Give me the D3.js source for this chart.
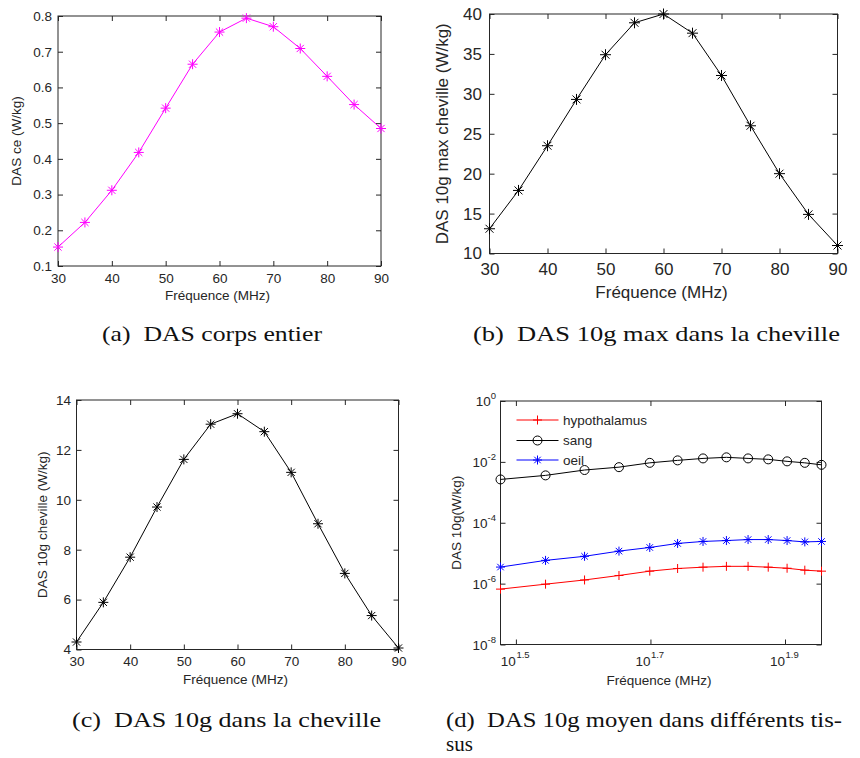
<!DOCTYPE html>
<html><head><meta charset="utf-8">
<script src="https://cdn.jsdelivr.net/npm/d3@7"></script>
<style>body{margin:0;background:#fff} svg{display:block}</style>
</head><body><svg id="c" width="860" height="758"></svg>
<script>
// ---------- data ----------
const freq = [30,35,40,45,50,55,60,65,70,75,80,85,90];
const dasCorpsEntier = [0.153,0.222,0.312,0.418,0.542,0.665,0.755,0.794,0.770,0.709,0.631,0.552,0.485];
const das10gMaxCheville = [13.1,17.9,23.5,29.3,34.9,38.9,40.0,37.6,32.3,26.0,20.0,14.9,11.0];
const das10gCheville = [4.30,5.89,7.70,9.71,11.62,13.03,13.45,12.73,11.10,9.04,7.05,5.36,4.06];
const hypothalamus = [6.6e-7,9.6e-7,1.32e-6,1.85e-6,2.57e-6,3.14e-6,3.47e-6,3.7e-6,3.7e-6,3.47e-6,3.2e-6,2.77e-6,2.57e-6];
const sang = [2.65e-3,3.6e-3,5.4e-3,6.7e-3,9.3e-3,1.12e-2,1.3e-2,1.41e-2,1.3e-2,1.21e-2,1.04e-2,9.3e-3,8.0e-3];
const oeil = [3.5e-6,5.8e-6,7.9e-6,1.17e-5,1.54e-5,2.09e-5,2.43e-5,2.6e-5,2.8e-5,2.8e-5,2.6e-5,2.35e-5,2.43e-5];

const xTicksLin = [30,40,50,60,70,80,90];
const yTicksA = [0.1,0.2,0.3,0.4,0.5,0.6,0.7,0.8];
const yTicksB = [10,15,20,25,30,35,40];
const yTicksC = [4,6,8,10,12,14];
const yExpD = [0,-2,-4,-6,-8];
const xExpD = ["1.5","1.7","1.9"];
const legendNames = ["hypothalamus","sang","oeil"];
const captions = ["(a)  DAS corps entier","(b)  DAS 10g max dans la cheville","(c)  DAS 10g dans la cheville","(d)  DAS 10g moyen dans différents tis-","sus"];

// ---------- drawing ----------
const svg = d3.select("#c");
const AX = "#262626";
const SANS = "'Liberation Sans', Arial, Helvetica, sans-serif";
const SERIF = "'Times New Roman', 'Liberation Serif', Tinos, 'Nimbus Roman', Times, serif";

function markerPath(type, cx, cy, s) {
  if (type === "plus") return `M${cx-s},${cy}H${cx+s}M${cx},${cy-s}V${cy+s}`;
  if (type === "star") {
    const d = s*0.72;
    return `M${cx-s},${cy}H${cx+s}M${cx},${cy-s}V${cy+s}M${cx-d},${cy-d}L${cx+d},${cy+d}M${cx-d},${cy+d}L${cx+d},${cy-d}`;
  }
  return "";
}

function drawSeries(g, x, y, xs, ys, color, marker, ms) {
  const line = d3.line().x((d,i)=>x(xs[i])).y(d=>y(d));
  g.append("path").attr("d", line(ys)).attr("fill","none").attr("stroke",color).attr("stroke-width",1);
  ys.forEach((v,i)=>{
    if (marker === "circle") {
      g.append("circle").attr("cx",x(xs[i])).attr("cy",y(v)).attr("r",ms)
        .attr("fill","none").attr("stroke",color).attr("stroke-width",1);
    } else {
      g.append("path").attr("d", markerPath(marker, x(xs[i]), y(v), ms))
        .attr("stroke",color).attr("stroke-width",1).attr("fill","none");
    }
  });
}

function styleAxis(sel, fs) {
  sel.select(".domain").remove();
  sel.selectAll("line").attr("stroke", AX);
  sel.selectAll("text").attr("fill", AX).style("font-family", SANS).style("font-size", fs+"px");
}

function linPanel(cfg) {
  const g = svg.append("g");
  const x = d3.scaleLinear().domain([30,90]).range([cfg.l, cfg.r]);
  const y = d3.scaleLinear().domain(cfg.yd).range([cfg.b, cfg.t]);
  g.append("rect").attr("x",cfg.l).attr("y",cfg.t).attr("width",cfg.r-cfg.l).attr("height",cfg.b-cfg.t)
    .attr("fill","none").attr("stroke",AX).attr("stroke-width",1);
  g.append("g").attr("transform",`translate(0,${cfg.b})`)
    .call(d3.axisBottom(x).tickValues(xTicksLin).tickSize(-5).tickPadding(cfg.xpad).tickFormat(d3.format("d")))
    .call(s=>styleAxis(s,cfg.fs));
  g.append("g").attr("transform",`translate(0,${cfg.t})`)
    .call(d3.axisTop(x).tickValues(xTicksLin).tickSize(-5).tickFormat(""))
    .call(s=>styleAxis(s,cfg.fs));
  g.append("g").attr("transform",`translate(${cfg.l},0)`)
    .call(d3.axisLeft(y).tickValues(cfg.yt).tickSize(-5).tickPadding(cfg.ypad).tickFormat(cfg.yf))
    .call(s=>styleAxis(s,cfg.fs));
  g.append("g").attr("transform",`translate(${cfg.r},0)`)
    .call(d3.axisRight(y).tickValues(cfg.yt).tickSize(-5).tickFormat(""))
    .call(s=>styleAxis(s,cfg.fs));
  drawSeries(g, x, y, freq, cfg.data, cfg.color, "star", cfg.ms);
  g.append("text").attr("x",(cfg.l+cfg.r)/2 + cfg.xlOff).attr("y",cfg.xlY).attr("text-anchor","middle")
    .style("font-family",SANS).style("font-size",cfg.lfs+"px").attr("fill",AX).text("Fréquence (MHz)");
  g.append("text").attr("transform",`translate(${cfg.ylX},${(cfg.t+cfg.b)/2}) rotate(-90)`).attr("text-anchor","middle")
    .style("font-family",SANS).style("font-size",cfg.lfs+"px").attr("fill",AX).text(cfg.ylabel);
}

linPanel({l:58,r:381,t:16,b:266,yd:[0.1,0.8],yt:yTicksA,yf:d3.format(".1f"),fs:13.5,lfs:13.5,
  xpad:7,ypad:6,data:dasCorpsEntier,color:"#ff00ff",ms:5,xlY:300,xlOff:-2,ylX:21,ylabel:"DAS ce (W/kg)"});
linPanel({l:489.5,r:837.5,t:14,b:253.5,yd:[10,40],yt:yTicksB,yf:d3.format("d"),fs:17,lfs:17,
  xpad:9.5,ypad:7.5,data:das10gMaxCheville,color:"#000",ms:5.5,xlY:298,xlOff:-2,ylX:448,ylabel:"DAS 10g max cheville (W/kg)"});
linPanel({l:76.5,r:398.5,t:400,b:649.5,yd:[4,14],yt:yTicksC,yf:d3.format("d"),fs:13.5,lfs:13.5,
  xpad:7,ypad:5.5,data:das10gCheville,color:"#000",ms:5,xlY:684,xlOff:-2,ylX:47,ylabel:"DAS 10g cheville (W/kg)"});

// ---------- panel d (log-log) ----------
(function(){
  const L=500.5,R=821.5,T=401,B=644.5;
  const g = svg.append("g");
  const x = d3.scaleLog().domain([30,90]).range([L,R]);
  const y = d3.scaleLog().domain([1e-8,1]).range([B,T]);
  const xt = xExpD.map(e=>Math.pow(10,+e));
  const yt = yExpD.map(e=>Math.pow(10,e));
  g.append("rect").attr("x",L).attr("y",T).attr("width",R-L).attr("height",B-T)
    .attr("fill","none").attr("stroke",AX).attr("stroke-width",1);
  g.append("g").attr("transform",`translate(0,${B})`).call(d3.axisBottom(x).tickValues(xt).tickSize(-5).tickFormat("")).call(s=>styleAxis(s,13));
  g.append("g").attr("transform",`translate(0,${T})`).call(d3.axisTop(x).tickValues(xt).tickSize(-5).tickFormat("")).call(s=>styleAxis(s,13));
  g.append("g").attr("transform",`translate(${L},0)`).call(d3.axisLeft(y).tickValues(yt).tickSize(-5).tickFormat("")).call(s=>styleAxis(s,13));
  g.append("g").attr("transform",`translate(${R},0)`).call(d3.axisRight(y).tickValues(yt).tickSize(-5).tickFormat("")).call(s=>styleAxis(s,13));
  // y tick labels
  yExpD.forEach(e=>{
    const t = g.append("text").attr("class","ylab").attr("x",L-24).attr("y",y(Math.pow(10,e))+5).attr("text-anchor","start")
      .style("font-family",SANS).style("font-size","13.5px").attr("fill",AX);
    t.append("tspan").text("10");
    t.append("tspan").attr("dy",-7).style("font-size","9.5px").text(String(e));
  });
  g.selectAll("text.ylab").each(function(){
    const bb = this.getBBox();
    d3.select(this).attr("x", +d3.select(this).attr("x") + (L-4.5 - (bb.x+bb.width)));
  });
  // x tick labels
  xExpD.forEach(e=>{
    const px = x(Math.pow(10,+e));
    g.append("text").attr("x",px).attr("y",666).attr("text-anchor","end")
      .style("font-family",SANS).style("font-size","13.5px").attr("fill",AX).text("10");
    g.append("text").attr("x",px+0.5).attr("y",657.5).attr("text-anchor","start")
      .style("font-family",SANS).style("font-size","9.5px").attr("fill",AX).text(e);
  });
  drawSeries(g, x, y, freq, hypothalamus, "#ff0000", "plus", 4.5);
  drawSeries(g, x, y, freq, sang, "#000000", "circle", 4.5);
  drawSeries(g, x, y, freq, oeil, "#0000ff", "star", 4.5);
  // legend
  const lg = [[legendNames[0],"#ff0000","plus"],[legendNames[1],"#000000","circle"],[legendNames[2],"#0000ff","star"]];
  const rowY = [420,440.5,460];
  lg.forEach((d,i)=>{
    const yy=rowY[i];
    g.append("line").attr("x1",516.5).attr("x2",558.5).attr("y1",yy).attr("y2",yy).attr("stroke",d[1]).attr("stroke-width",1);
    if (d[2]==="circle") g.append("circle").attr("cx",537.5).attr("cy",yy).attr("r",4.5).attr("fill","none").attr("stroke",d[1]);
    else g.append("path").attr("d",markerPath(d[2],537.5,yy,4.5)).attr("stroke",d[1]).attr("fill","none");
    g.append("text").attr("x",563).attr("y",yy+4.5).style("font-family",SANS).style("font-size","13.5px").attr("fill",AX).text(d[0]);
  });
  g.append("text").attr("x",(L+R)/2-2).attr("y",685).attr("text-anchor","middle")
    .style("font-family",SANS).style("font-size","13.5px").attr("fill",AX).text("Fréquence (MHz)");
  g.append("text").attr("transform",`translate(460.5,${(T+B)/2}) rotate(-90)`).attr("text-anchor","middle")
    .style("font-family",SANS).style("font-size","13.5px").attr("fill",AX).text("DAS 10g(W/kg)");
})();

// ---------- captions ----------
const capPos = [[102,341,220],[473,341,367],[72,727,309],[446,727,396],[446,751,null]];
captions.forEach((c,i)=>{
  const p = capPos[i];
  const t = svg.append("text").attr("x",p[0]).attr("y",p[1]).style("font-family",SERIF).style("font-size","21px")
    .attr("fill","#111").attr("xml:space","preserve").style("white-space","pre").text(c);
  if (p[2]) t.attr("textLength",p[2]).attr("lengthAdjust","spacingAndGlyphs");
});
</script>
</body></html>
